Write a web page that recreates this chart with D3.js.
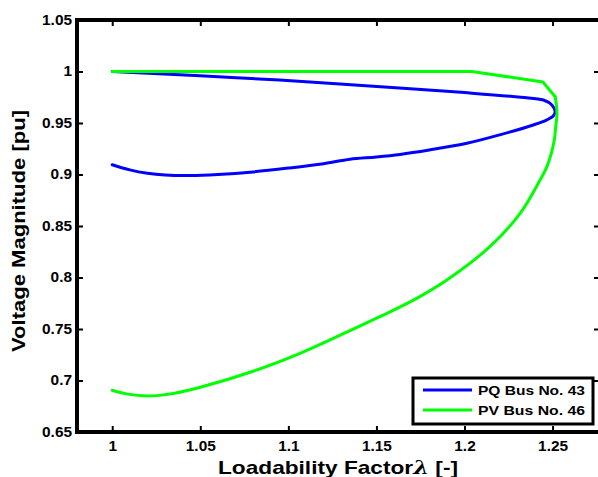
<!DOCTYPE html>
<html>
<head>
<meta charset="utf-8">
<script src="https://cdn.jsdelivr.net/npm/d3@7"></script>
<style>
  html, body { margin: 0; padding: 0; background: #fff; }
  svg { display: block; font-family: "Liberation Sans", Arial, sans-serif; font-weight: bold; }
</style>
</head>
<body>
<svg id="chart" width="598" height="477"></svg>
<script>
// PV curves from continuation power flow: loadability factor vs. bus voltage
const pqLambda = [1, 1.05, 1.095, 1.163, 1.2, 1.232, 1.2448, 1.2496, 1.2515,
  1.2505, 1.2468, 1.2391, 1.22, 1.2014, 1.18, 1.1634, 1.15, 1.135, 1.12, 1.1, 1.08,
  1.06, 1.044, 1.03, 1.02, 1.01, 1];
const pqVoltage = [1.0, 0.9958, 0.9917, 0.984, 0.9795, 0.975, 0.9723, 0.9675, 0.961,
  0.957, 0.953, 0.9481, 0.9385, 0.9303, 0.9238, 0.9195, 0.917, 0.9148, 0.9105, 0.9062, 0.9025,
  0.9, 0.899, 0.8995, 0.9012, 0.9045, 0.9095];

const pvLambda = [1, 1.05, 1.1, 1.15, 1.2042, 1.2445, 1.2515, 1.2525, 1.2517, 1.251,
  1.2468, 1.2429, 1.2316, 1.2144, 1.19, 1.171, 1.152, 1.13, 1.1066, 1.08,
  1.05, 1.035, 1.02, 1.008, 1];
const pvVoltage = [1.0, 1.0, 1.0, 1.0, 1.0, 0.9898, 0.9755, 0.9597, 0.945, 0.9335,
  0.9076, 0.8947, 0.8623, 0.83, 0.7976, 0.778, 0.762, 0.7445, 0.7264, 0.709,
  0.6934, 0.6875, 0.685, 0.687, 0.6905];

const seriesNames = ["PQ Bus No. 43", "PV Bus No. 46"];
const seriesColors = ["#0000ff", "#00ff00"];

const xTicks = [1, 1.05, 1.1, 1.15, 1.2, 1.25];
const xTickLabels = ["1", "1.05", "1.1", "1.15", "1.2", "1.25"];
const yTicks = [0.65, 0.7, 0.75, 0.8, 0.85, 0.9, 0.95, 1, 1.05];
const yTickLabels = ["0.65", "0.7", "0.75", "0.8", "0.85", "0.9", "0.95", "1", "1.05"];

const xTitle = "Loadability Factor";
const yTitle = "Voltage Magnitude [pu]";

const svg = d3.select("#chart");
const L = 77, R = 601, T = 20, B = 432;

const x = d3.scaleLinear().domain([0.98, 1.2775]).range([L, R]);
const y = d3.scaleLinear().domain([0.65, 1.05]).range([B, T]);

// widen glyphs slightly so text runs the same length as the plot's font
function stretch(sel, factor) {
  sel.each(function () {
    const w = this.getComputedTextLength();
    this.setAttribute("textLength", w * factor);
    this.setAttribute("lengthAdjust", "spacingAndGlyphs");
  });
}

// series; the PV bus sits at its set point (straight segments) until the
// generator hits its reactive limit, after which the curve bends smoothly
const series = [
  { name: seriesNames[0], color: seriesColors[0], pts: pqLambda.map((v, i) => [v, pqVoltage[i]]), sharp: 0 },
  { name: seriesNames[1], color: seriesColors[1], pts: pvLambda.map((v, i) => [v, pvVoltage[i]]), sharp: 6 }
];
const straight = d3.line().x(d => x(d[0])).y(d => y(d[1]));
const smooth = d3.line().x(d => x(d[0])).y(d => y(d[1])).curve(d3.curveCatmullRom.alpha(0.5));

const gLines = svg.append("g");
series.forEach(s => {
  const parts = s.sharp > 0
    ? [[straight, s.pts.slice(0, s.sharp + 1)], [smooth, s.pts.slice(s.sharp)]]
    : [[smooth, s.pts]];
  parts.forEach(([gen, pts]) => {
    gLines.append("path")
      .attr("d", gen(pts))
      .attr("fill", "none")
      .attr("stroke", s.color)
      .attr("stroke-width", 3)
      .attr("stroke-linejoin", "round")
      .attr("stroke-linecap", "round");
  });
});

// axes: ticks point inward on all four sides
const fmtX = d => xTickLabels[xTicks.indexOf(d)];
const fmtY = d => yTickLabels[yTicks.indexOf(d)];

const gx = svg.append("g").attr("transform", `translate(0,${B})`)
  .call(d3.axisBottom(x).tickValues(xTicks).tickFormat(fmtX).tickSize(-6).tickSizeOuter(0).tickPadding(9));
const gy = svg.append("g").attr("transform", `translate(${L},0)`)
  .call(d3.axisLeft(y).tickValues(yTicks).tickFormat(fmtY).tickSize(-6).tickSizeOuter(0).tickPadding(5));
const gt = svg.append("g").attr("transform", `translate(0,${T})`)
  .call(d3.axisTop(x).tickValues(xTicks).tickFormat("").tickSize(-6).tickSizeOuter(0));
const gr = svg.append("g").attr("transform", `translate(${R},0)`)
  .call(d3.axisRight(y).tickValues(yTicks).tickFormat("").tickSize(-7).tickSizeOuter(0));

[gx, gy, gt, gr].forEach(g => {
  g.select(".domain").remove();
  g.selectAll(".tick line").attr("stroke", "#000").attr("stroke-width", 2);
});
[gx, gy].forEach(g => {
  g.selectAll(".tick text").attr("fill", "#000")
    .style("font-family", '"Liberation Sans", Arial, sans-serif')
    .style("font-weight", "bold").style("font-size", "14px");
});
stretch(gx.selectAll(".tick text"), 1.1);
stretch(gy.selectAll(".tick text"), 1.1);

// frame
svg.append("rect")
  .attr("x", L).attr("y", T).attr("width", R - L).attr("height", B - T)
  .attr("fill", "none").attr("stroke", "#000").attr("stroke-width", 4);

// axis titles
const xt = svg.append("text")
  .attr("x", (L + 599) / 2).attr("y", 474)
  .attr("text-anchor", "middle").style("font-size", "19px").attr("fill", "#000");
xt.append("tspan").text(xTitle);
xt.append("tspan").style("font-family", "DejaVu Serif").style("font-style", "italic").text("\u03bb");
xt.append("tspan").text(" [-]");
xt.attr("textLength", 240).attr("lengthAdjust", "spacingAndGlyphs");

svg.append("text")
  .attr("transform", `translate(25,231) rotate(-90)`)
  .attr("text-anchor", "middle").style("font-size", "18px").attr("fill", "#000")
  .attr("textLength", 242).attr("lengthAdjust", "spacingAndGlyphs")
  .text(yTitle);

// legend
const lg = svg.append("g");
lg.append("rect").attr("x", 413).attr("y", 378).attr("width", 180).attr("height", 46)
  .attr("fill", "#fff").attr("stroke", "#000").attr("stroke-width", 3);
series.forEach((s, i) => {
  const yy = 390 + i * 20;
  lg.append("line").attr("x1", 423).attr("x2", 472).attr("y1", yy).attr("y2", yy)
    .attr("stroke", s.color).attr("stroke-width", 3);
  lg.append("text").attr("x", 478).attr("y", yy + 5).style("font-size", "13.5px")
    .attr("fill", "#000").attr("textLength", 107).attr("lengthAdjust", "spacingAndGlyphs")
    .text(s.name);
});
</script>
</body>
</html>
